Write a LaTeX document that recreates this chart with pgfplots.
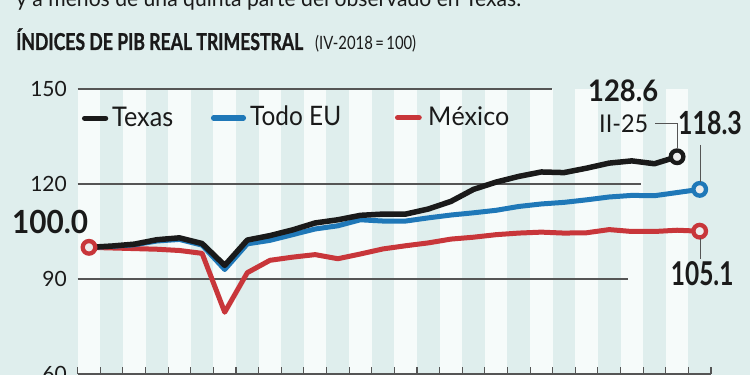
\documentclass[border=0pt]{standalone}
\usepackage{fontspec}
\setmainfont{Lato}
\newfontfamily\heavy{Lato}[FakeBold=1.2]
\usepackage{graphicx}
\usepackage{pgfplots}
\pgfplotsset{compat=1.18}
\usetikzlibrary{backgrounds}

\definecolor{bg}{HTML}{DFEEED}
\definecolor{stripe}{HTML}{F6FBFA}
\definecolor{tx}{HTML}{1A1A1A}
\definecolor{us}{HTML}{1F78B8}
\definecolor{mx}{HTML}{C8363A}
\definecolor{gridc}{HTML}{555555}
\definecolor{mk}{HTML}{ECECEC}

% left x, baseline y (image pixels), width, height above baseline, content
\newcommand{\T}[5]{\node[anchor=base west, inner sep=0pt, text=tx] at (#1,#2) {\resizebox{#3pt}{#4}{#5}};}

\pgfplotstableread{
x y
0 100.0
1 100.4
2 101.0
3 102.4
4 103.0
5 101.2
6 94.3
7 102.3
8 103.7
9 105.5
10 107.7
11 108.7
12 110.1
13 110.5
14 110.5
15 112.1
16 114.5
17 118.3
18 120.6
19 122.4
20 123.8
21 123.6
22 125.0
23 126.6
24 127.3
25 126.4
26 128.6
}\texas

\pgfplotstableread{
x y
0 100.0
1 100.3
2 100.8
3 102.0
4 102.5
5 100.7
6 93.0
7 101.1
8 102.2
9 104.0
10 105.8
11 106.8
12 108.7
13 108.3
14 108.3
15 109.3
16 110.2
17 110.9
18 111.7
19 112.9
20 113.7
21 114.2
22 115.0
23 115.9
24 116.4
25 116.3
26 117.3
27 118.3
}\usa

\pgfplotstableread{
x y
0 100.0
1 99.8
2 99.6
3 99.4
4 99.0
5 98.1
6 79.5
7 92.0
8 95.9
9 96.9
10 97.7
11 96.4
12 97.9
13 99.5
14 100.5
15 101.4
16 102.6
17 103.2
18 104.0
19 104.5
20 104.8
21 104.5
22 104.6
23 105.6
24 105.0
25 105.0
26 105.4
27 105.1
}\mexico

\begin{document}
\begin{tikzpicture}
\begin{axis}[
  scale only axis, width=633.3pt, height=285pt,
  xmin=-0.5, xmax=27.5, ymin=60, ymax=150,
  axis on top, clip=false,
  axis x line*=bottom, axis y line*=left,
  y axis line style={draw=none},
  x axis line style={gridc, line width=1.1pt, -},
  xtick={-0.5,0.5,...,27.5}, xticklabels={},
  ytick={60,90,120,150},
  major tick length=7pt,
  xtick style={gridc, line width=1.1pt},
  ytick style={draw=none},
  tick align=inside,
  /pgf/number format/assume math mode=true,
  yticklabel style={font=\fontsize{21}{21}\selectfont, text=tx, inner sep=0pt, anchor=east},
  yticklabel shift=10.7pt,
]
% alternating stripes
\pgfplotsinvokeforeach{-0.5,1.5,...,25.5}{\fill[stripe] (axis cs:#1,60) rectangle ([xshift=22.618pt]axis cs:#1,150);}
% partial grid lines
\draw[gridc, line width=1.1pt] (axis cs:-0.5,150) -- (axis cs:20.45,150);
\draw[gridc, line width=1.1pt] (axis cs:-0.5,120) -- (axis cs:24.42,120);
\draw[gridc, line width=1.1pt] (axis cs:-0.5,90) -- (axis cs:23.85,90);
\addplot[mx, line width=5pt, line join=round, line cap=round] table[x=x,y=y] {\mexico};
\addplot[us, line width=5pt, line join=round, line cap=round] table[x=x,y=y] {\usa};
\addplot[tx, line width=5.5pt, line join=round, line cap=round] table[x=x,y=y] {\texas};
\addplot[only marks, mark=*, mark size=6.3pt, mark options={draw=tx, fill=mk, line width=4.3pt}] coordinates {(26,128.6)};
\addplot[only marks, mark=*, mark size=6.3pt, mark options={draw=us, fill=mk, line width=4.3pt}] coordinates {(27,118.3)};
\addplot[only marks, mark=*, mark size=6.3pt, mark options={draw=mx, fill=mk, line width=4.3pt}] coordinates {(27,105.1) (0,100.0)};
\coordinate (O) at (axis cs:-0.5,150);
\end{axis}

\begin{scope}[shift={(O)}, xshift=-77.7pt, yshift=89pt, x=1pt, y=-1pt]
\begin{scope}[on background layer]
\fill[bg] (0,0) rectangle (750,375);
\end{scope}
% leader lines
\draw[gridc, line width=0.9pt] (655,123.3) -- (677,123.3) -- (677,148.5);
\draw[gridc, line width=0.9pt] (700.8,145) -- (700.8,182.5);
\draw[gridc, line width=0.9pt] (700.8,238) -- (700.8,259);
% legend
\draw[tx, line width=5.5pt, line cap=round] (84.7,118.3) -- (105.5,118.3);
\draw[us, line width=5.5pt, line cap=round] (213.7,118) -- (243.3,118);
\draw[mx, line width=5.5pt, line cap=round] (397.7,117.7) -- (419,117.7);
\T{112}{126.5}{61}{19.4pt}{\fontsize{27}{27}\selectfont Texas}
\T{250}{126}{91}{19.2pt}{\fontsize{27}{27}\selectfont To\smash{d}o EU}
\T{428}{125.7}{81}{18.8pt}{\fontsize{27}{27}\selectfont M\smash{é}xico}
% titles
\T{16}{7}{505}{\height}{\fontsize{22}{22}\selectfont y a menos de una quinta parte del observado en Texas.}
\T{16}{50}{287}{17pt}{\heavy\fontsize{23.7}{24}\selectfont\bfseries \smash{Í}NDICES DE PIB REAL TRIMESTRAL}
\T{315}{49.5}{101}{13.3pt}{\fontsize{18.6}{19}\selectfont \smash{(}IV-2018\,=\,100\smash{)}}
% value labels
\T{12}{233.3}{76}{23.3pt}{\fontsize{32}{32}\selectfont\bfseries 100.0}
\T{588}{101.7}{70}{21.7pt}{\fontsize{30}{30}\selectfont\bfseries 128.6}
\T{678}{135}{63.7}{23.3pt}{\fontsize{32}{32}\selectfont\bfseries 118.3}
\T{670.7}{285.7}{62.6}{24pt}{\fontsize{33}{33}\selectfont\bfseries 105.1}
\T{599}{132.7}{49}{17.7pt}{\fontsize{24.6}{25}\selectfont II-25}
\pgfresetboundingbox
\path[use as bounding box] (0,0) rectangle (750,375);
\end{scope}
\end{tikzpicture}
\end{document}
